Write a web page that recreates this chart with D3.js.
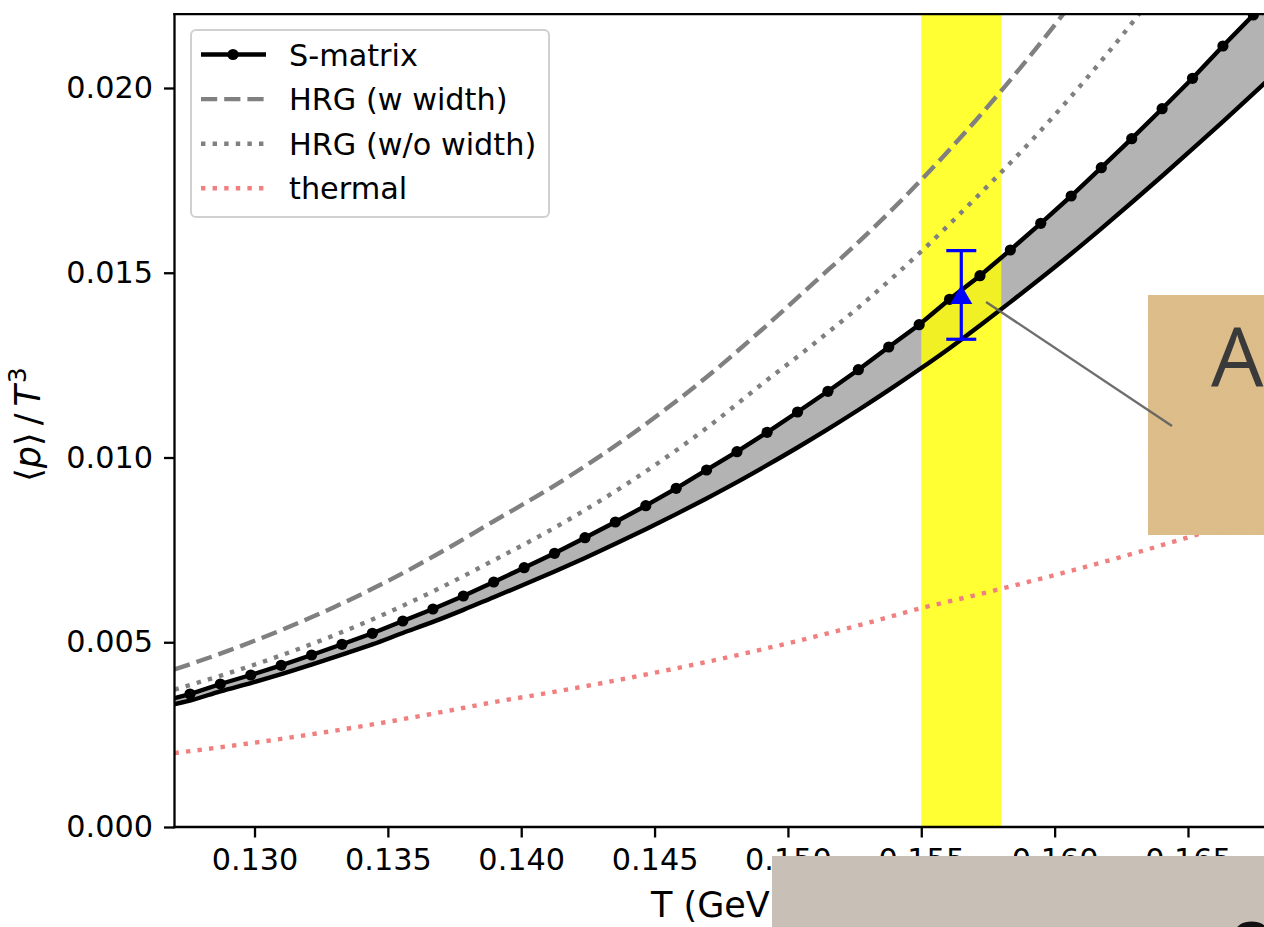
<!DOCTYPE html>
<html>
<head>
<meta charset="utf-8">
<script src="https://cdn.jsdelivr.net/npm/d3@7"></script>
<style>
  html, body { margin: 0; padding: 0; background: #fff; }
  svg { display: block; font-family: "DejaVu Sans", sans-serif; }
</style>
</head>
<body>
<svg id="chart" width="1264" height="927"></svg>
<script>
// ---- data ---------------------------------------------------------------
// S-matrix result: temperature grid (GeV), central curve and lower edge of the band
const T_SMATRIX = [0.12644, 0.12758, 0.12872, 0.12986, 0.13100, 0.13214, 0.13328, 0.13442,
  0.13556, 0.13669, 0.13783, 0.13897, 0.14011, 0.14125, 0.14239, 0.14353, 0.14467,
  0.14581, 0.14695, 0.14809, 0.14922, 0.15036, 0.15150, 0.15264, 0.15378, 0.15492,
  0.15606, 0.15720, 0.15834, 0.15948, 0.16062, 0.16175, 0.16289, 0.16403, 0.16517,
  0.16631, 0.16745, 0.16859];
const P_SMATRIX = [0.003376, 0.003599, 0.003870, 0.004114, 0.004376, 0.004655, 0.004945,
  0.005242, 0.005575, 0.005900, 0.006252, 0.006631, 0.007018, 0.007407, 0.007830,
  0.008254, 0.008696, 0.009166, 0.009662, 0.010157, 0.010682, 0.011231, 0.011792,
  0.012376, 0.012991, 0.013594, 0.014281, 0.014920, 0.015616, 0.016338, 0.017077,
  0.017843, 0.018628, 0.019440, 0.020262, 0.021137, 0.021976, 0.022920];
const P_SMATRIX_LOW = [0.003250, 0.003421, 0.003672, 0.003896, 0.004136, 0.004396, 0.004665,
  0.004941, 0.005250, 0.005550, 0.005876, 0.006220, 0.006562, 0.006916, 0.007283,
  0.007663, 0.008058, 0.008467, 0.008892, 0.009334, 0.009793, 0.010271, 0.010768,
  0.011285, 0.011822, 0.012380, 0.012959, 0.013575, 0.014205, 0.014851, 0.015515,
  0.016196, 0.016901, 0.017619, 0.018350, 0.019093, 0.019847, 0.020611];

// HRG and thermal curves on a regular temperature grid (GeV)
const T_GRID = [0.127, 0.129, 0.131, 0.133, 0.135, 0.137, 0.139, 0.141, 0.143, 0.145,
  0.147, 0.149, 0.151, 0.153, 0.155, 0.157, 0.159, 0.161, 0.163, 0.165, 0.167, 0.169];
const P_HRG_WIDTH = [0.004263, 0.004766, 0.005328, 0.005956, 0.006658, 0.007442, 0.008288,
  0.009130, 0.010058, 0.011080, 0.012204, 0.013444, 0.014746, 0.016070, 0.017514,
  0.019087, 0.020797, 0.022640, 0.024600, 0.026700, 0.028900, 0.031200];
const P_HRG_NOWIDTH = [0.003720, 0.004157, 0.004646, 0.005193, 0.005804, 0.006485, 0.007230,
  0.007998, 0.008846, 0.009786, 0.010824, 0.011973, 0.013093, 0.014281, 0.015579,
  0.016991, 0.018476, 0.020091, 0.021849, 0.023760, 0.025800, 0.027900];
const P_THERMAL = [0.002000, 0.002185, 0.002386, 0.002606, 0.002847, 0.003109, 0.003382,
  0.003628, 0.003891, 0.004174, 0.004476, 0.004801, 0.005150, 0.005524, 0.005924,
  0.006270, 0.006631, 0.007008, 0.007411, 0.007838, 0.008280, 0.008750];

// lattice point with error bar, and the pseudo-critical temperature band
const LATTICE_T = [0.1565];
const LATTICE_P = [0.0144];
const LATTICE_ERR = [0.0012];
const TC_BAND = [0.155, 0.158];

// axes
const X_DOMAIN = [0.127, 0.168];
const Y_DOMAIN = [0, 0.022];
const X_TICKS = [0.130, 0.135, 0.140, 0.145, 0.150, 0.155, 0.160, 0.165];
const Y_TICKS = [0.000, 0.005, 0.010, 0.015, 0.020];
const LEGEND_LABELS = ["S-matrix", "HRG (w width)", "HRG (w/o width)", "thermal"];

// ---- layout -------------------------------------------------------------
const plot = { left: 174.5, right: 1268, top: 14.1, bottom: 827 };
const FONT = 30.3;
const LABEL_FONT = 35;
const LW = 4.4;

const svg = d3.select("#chart");
const x = d3.scaleLinear().domain(X_DOMAIN).range([plot.left, plot.right]);
const y = d3.scaleLinear().domain(Y_DOMAIN).range([plot.bottom, plot.top]);

const defs = svg.append("defs");
defs.append("clipPath").attr("id", "plotClip")
  .append("rect")
  .attr("x", plot.left).attr("y", plot.top)
  .attr("width", plot.right - plot.left).attr("height", plot.bottom - plot.top);

// paper grain for the label card
const grain = defs.append("filter").attr("id", "grain")
  .attr("x", 0).attr("y", 0).attr("width", 1).attr("height", 1);
grain.append("feTurbulence").attr("type", "fractalNoise")
  .attr("baseFrequency", 0.85).attr("numOctaves", 2).attr("seed", 7).attr("result", "noise");
grain.append("feColorMatrix").attr("in", "noise").attr("type", "matrix")
  .attr("values", "0 0 0 0 0.64  0 0 0 0 0.52  0 0 0 0 0.35  0.45 0 0 0 -0.15")
  .attr("result", "tint");
grain.append("feComposite").attr("in", "tint").attr("in2", "SourceGraphic").attr("operator", "in");

const data = svg.append("g").attr("clip-path", "url(#plotClip)");

const smat = T_SMATRIX.map((t, i) => ({ t, hi: P_SMATRIX[i], lo: P_SMATRIX_LOW[i] }));
const smooth = d3.curveMonotoneX;

// band between the S-matrix curve and its lower edge
data.append("path")
  .datum(smat)
  .attr("fill", "#b3b3b3")
  .attr("d", d3.area().curve(smooth).x(d => x(d.t)).y0(d => y(d.lo)).y1(d => y(d.hi)));

// pseudo-critical temperature band
data.append("rect")
  .attr("x", x(TC_BAND[0])).attr("width", x(TC_BAND[1]) - x(TC_BAND[0]))
  .attr("y", plot.top).attr("height", plot.bottom - plot.top)
  .attr("fill", "#ffff00").attr("fill-opacity", 0.8);

const lineOf = arr => d3.line().curve(smooth).x((d, i) => x(T_GRID[i])).y(d => y(d))(arr);

data.append("path").attr("d", lineOf(P_THERMAL))
  .attr("fill", "none").attr("stroke", "#f08080").attr("stroke-width", LW)
  .attr("stroke-dasharray", "4.4 7.2");

data.append("path").attr("d", lineOf(P_HRG_NOWIDTH))
  .attr("fill", "none").attr("stroke", "#808080").attr("stroke-width", LW)
  .attr("stroke-dasharray", "4.4 7.2");

data.append("path").attr("d", lineOf(P_HRG_WIDTH))
  .attr("fill", "none").attr("stroke", "#808080").attr("stroke-width", LW)
  .attr("stroke-dasharray", "16.2 7");

// lower edge of the S-matrix band
data.append("path")
  .datum(smat)
  .attr("fill", "none").attr("stroke", "#000").attr("stroke-width", LW)
  .attr("d", d3.line().curve(smooth).x(d => x(d.t)).y(d => y(d.lo)));

// S-matrix central curve with markers
data.append("path")
  .datum(smat)
  .attr("fill", "none").attr("stroke", "#000").attr("stroke-width", LW)
  .attr("d", d3.line().x(d => x(d.t)).y(d => y(d.hi)));
data.selectAll("circle.sm").data(smat).join("circle")
  .attr("class", "sm")
  .attr("cx", d => x(d.t)).attr("cy", d => y(d.hi)).attr("r", 5.6)
  .attr("fill", "#000");

// lattice point with error bar
const lat = LATTICE_T.map((t, i) => ({ t, p: LATTICE_P[i], e: LATTICE_ERR[i] }));
const eb = data.selectAll("g.lat").data(lat).join("g").attr("class", "lat");
eb.append("line")
  .attr("x1", d => x(d.t)).attr("x2", d => x(d.t))
  .attr("y1", d => y(d.p - d.e)).attr("y2", d => y(d.p + d.e))
  .attr("stroke", "#0000ff").attr("stroke-width", 3.2);
[-1, 1].forEach(s => {
  eb.append("line")
    .attr("x1", d => x(d.t) - 15).attr("x2", d => x(d.t) + 15)
    .attr("y1", d => y(d.p + s * d.e)).attr("y2", d => y(d.p + s * d.e))
    .attr("stroke", "#0000ff").attr("stroke-width", 3.2);
});
eb.append("path")
  .attr("d", d => {
    const cx = x(d.t), cy = y(d.p);
    return `M${cx},${cy - 10}L${cx + 11},${cy + 9}L${cx - 11},${cy + 9}Z`;
  })
  .attr("fill", "#0000ff");

// ---- axes ---------------------------------------------------------------
const fmt = d3.format(".3f");
const xAxis = svg.append("g").attr("transform", `translate(0,${plot.bottom})`)
  .call(d3.axisBottom(x).tickValues(X_TICKS).tickFormat(fmt)
    .tickSizeInner(10.5).tickSizeOuter(0).tickPadding(11));
const yAxis = svg.append("g").attr("transform", `translate(${plot.left},0)`)
  .call(d3.axisLeft(y).tickValues(Y_TICKS).tickFormat(fmt)
    .tickSizeInner(10.5).tickSizeOuter(0).tickPadding(11));
[xAxis, yAxis].forEach(a => {
  a.select(".domain").remove();
  a.selectAll(".tick line").attr("stroke", "#000").attr("stroke-width", 2.3);
  a.selectAll(".tick text").attr("fill", "#000")
    .style("font-family", "DejaVu Sans").style("font-size", FONT + "px");
});

// spines
const spine = svg.append("g").attr("stroke", "#000").attr("stroke-width", 2.3)
  .attr("stroke-linecap", "square");
spine.append("line").attr("x1", plot.left).attr("x2", plot.left).attr("y1", plot.top).attr("y2", plot.bottom);
spine.append("line").attr("x1", plot.left).attr("x2", plot.right).attr("y1", plot.bottom).attr("y2", plot.bottom);
spine.append("line").attr("x1", plot.left).attr("x2", plot.right).attr("y1", plot.top).attr("y2", plot.top);
spine.append("line").attr("x1", plot.right).attr("x2", plot.right).attr("y1", plot.top).attr("y2", plot.bottom);

// axis titles
svg.append("text")
  .attr("x", (plot.left + plot.right) / 2 - 4).attr("y", 917)
  .attr("text-anchor", "middle").style("font-size", LABEL_FONT + "px").attr("fill", "#000")
  .text("T (GeV)");

const yl = svg.append("text")
  .attr("transform", `translate(40,${(plot.top + plot.bottom) / 2 + 4}) rotate(-90)`)
  .attr("text-anchor", "middle").style("font-size", LABEL_FONT + "px").attr("fill", "#000");
yl.append("tspan").text("⟨");
yl.append("tspan").attr("font-style", "italic").text("p");
yl.append("tspan").text("⟩\u2009/\u2009");
yl.append("tspan").attr("font-style", "italic").text("T");
yl.append("tspan").attr("dy", -14).attr("dx", 2).style("font-size", "25px").text("3");

// ---- legend -------------------------------------------------------------
const lg = svg.append("g");
lg.append("rect")
  .attr("x", 191).attr("y", 30).attr("width", 358).attr("height", 187)
  .attr("rx", 5).attr("fill", "#fff").attr("fill-opacity", 0.8)
  .attr("stroke", "#d0d0d0").attr("stroke-width", 2);
const legendStyles = [
  { stroke: "#000", dash: null, marker: true },
  { stroke: "#808080", dash: "16.2 7" },
  { stroke: "#808080", dash: "4.4 7.2" },
  { stroke: "#f08080", dash: "4.4 7.2" }
];
LEGEND_LABELS.forEach((label, i) => {
  const cy = 54.5 + i * 44.6;
  const st = legendStyles[i];
  lg.append("line")
    .attr("x1", 201).attr("x2", 266).attr("y1", cy).attr("y2", cy)
    .attr("stroke", st.stroke).attr("stroke-width", LW)
    .attr("stroke-dasharray", st.dash);
  if (st.marker) {
    lg.append("circle").attr("cx", 233).attr("cy", cy).attr("r", 5.6).attr("fill", "#000");
  }
  lg.append("text")
    .attr("x", 289).attr("y", cy + 11)
    .style("font-size", FONT + "px").attr("fill", "#000")
    .text(label);
});

// ---- overlaid label card and connector ---------------------------------
const card = { x: 1148, y: 295, w: 130, h: 240 };
svg.append("rect")
  .attr("x", card.x).attr("y", card.y).attr("width", card.w).attr("height", card.h)
  .attr("fill", "#ddbd88");
svg.append("rect")
  .attr("x", card.x).attr("y", card.y).attr("width", card.w).attr("height", card.h)
  .attr("fill", "#ddbd88").attr("filter", "url(#grain)");
svg.append("text")
  .attr("x", 1211).attr("y", 387)
  .style("font-family", "'Open Sans', sans-serif").style("font-size", "83px")
  .attr("fill", "#3a3a3a")
  .text("A");
svg.append("line")
  .attr("x1", x(0.15743)).attr("y1", y(0.01421))
  .attr("x2", card.x + 24).attr("y2", card.y + 131)
  .attr("stroke", "#5e5e5e").attr("stroke-width", 2.4).attr("stroke-opacity", 0.9);

// bottom caption strip
svg.append("rect")
  .attr("x", 772).attr("y", 856).attr("width", 500).attr("height", 80)
  .attr("fill", "#c8c0b7");
svg.append("text")
  .attr("x", 1228).attr("y", 965)
  .style("font-family", "'Open Sans', sans-serif").style("font-size", "60px")
  .style("font-weight", 600).attr("fill", "#111")
  .text("Q");
</script>
</body>
</html>
